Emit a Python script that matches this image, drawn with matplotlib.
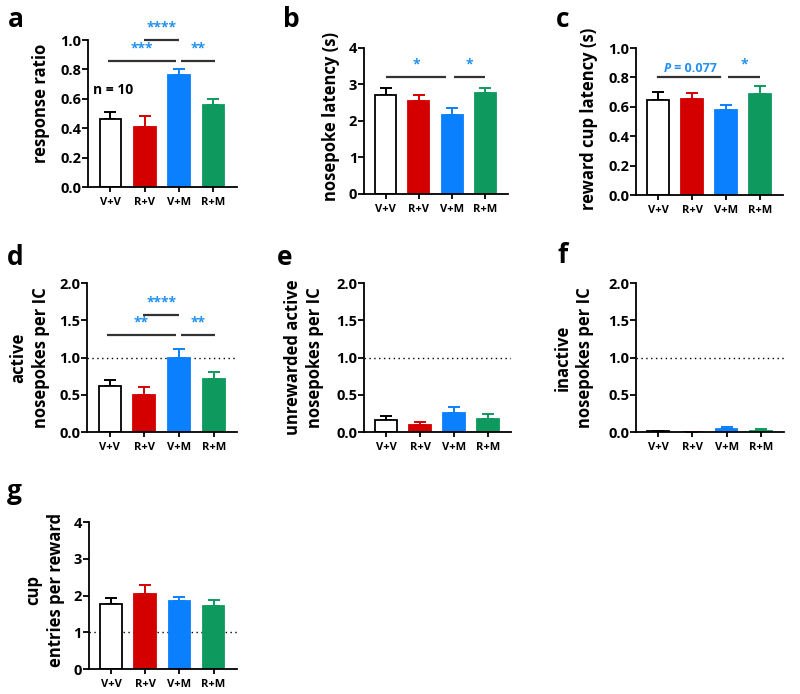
import matplotlib
matplotlib.use("Agg")
import matplotlib.pyplot as plt
import numpy as np

plt.rcParams['font.family'] = ['Open Sans', 'DejaVu Sans']
plt.rcParams['font.weight'] = 'bold'

groups = ["V+V", "R+V", "V+M", "R+M"]
fills = ["white", "#d40000", "#0a80ff", "#0e9a5e"]
edges = ["black", "#d40000", "#0a80ff", "#0e9a5e"]
star_blue = "#2391f0"

# a
ratio_mean = [0.46, 0.41, 0.76, 0.555]
ratio_sem = [0.05, 0.07, 0.045, 0.045]
# b
poke_lat_mean = [2.71, 2.56, 2.15, 2.76]
poke_lat_sem = [0.20, 0.16, 0.20, 0.13]
# c
cup_lat_mean = [0.645, 0.654, 0.58, 0.686]
cup_lat_sem = [0.055, 0.041, 0.031, 0.056]
# d
active_mean = [0.62, 0.50, 1.00, 0.71]
active_sem = [0.08, 0.10, 0.11, 0.09]
# e
unrew_mean = [0.16, 0.09, 0.25, 0.18]
unrew_sem = [0.05, 0.04, 0.08, 0.06]
# f
inactive_mean = [0.012, 0.004, 0.04, 0.018]
inactive_sem = [0.005, 0.002, 0.025, 0.02]
# g
cup_entry_mean = [1.76, 2.03, 1.84, 1.71]
cup_entry_sem = [0.18, 0.26, 0.13, 0.16]


def bar_panel(rect, mean, sem, ylim, yticks, fmt, ylabel, lab_xy, ref_line=False):
    ax = fig.add_axes(rect)
    x = np.arange(len(groups))
    for i in range(len(groups)):
        ax.errorbar(x[i], mean[i], yerr=[[0], [sem[i]]], fmt='none', ecolor=edges[i],
                    elinewidth=1.4, capsize=4, capthick=1.4, zorder=1)
    ax.bar(x, mean, width=0.63, color=fills, edgecolor=edges, linewidth=1.3, zorder=2)
    if ref_line:
        ax.axhline(1.0, color="black", linestyle=(0, (1, 2.5)), linewidth=1, zorder=0)
    ax.set_xlim(-0.65, 3.68)
    ax.set_ylim(*ylim)
    ax.set_yticks(yticks)
    ax.set_yticklabels([fmt % t for t in yticks], fontsize=10.5, fontweight='bold')
    ax.set_xticks(x)
    ax.set_xticklabels(groups, fontsize=8, fontweight='bold')
    ax.spines['top'].set_visible(False)
    ax.spines['right'].set_visible(False)
    for s in ['left', 'bottom']:
        ax.spines[s].set_linewidth(1.3)
    ax.tick_params(axis='y', length=4, width=1.3, pad=1)
    ax.tick_params(axis='x', length=3.5, width=1.3, pad=4)
    ax.set_ylabel(ylabel, fontsize=12, fontweight='bold', linespacing=1.3)
    ax.yaxis.label.set_verticalalignment('center')
    ax.yaxis.set_label_coords(*lab_xy)
    return ax


def sig(ax, x0, x1, y, text):
    ax.plot([x0, x1], [y, y], color="#333333", linewidth=1.6, solid_capstyle='butt',
            clip_on=False)
    ax.annotate(text, xy=((x0 + x1) / 2, y), xytext=(0, 4), textcoords='offset points',
                ha='center', va='bottom', color=star_blue, fontsize=10, fontweight='bold')


fig = plt.figure(figsize=(8, 6.94), dpi=100)

ax = bar_panel([0.110, 0.7305, 0.186, 0.2118], ratio_mean, ratio_sem, (0, 1.0),
               [0, 0.2, 0.4, 0.6, 0.8, 1.0], "%.1f", "response ratio", (-0.315, 0.57))
sig(ax, -0.07, 1.9, 0.855, "***")
sig(ax, 2.05, 3.05, 0.855, "**")
sig(ax, 0.97, 2.0, 1.0, "****")
ax.text(-0.51, 0.66, "n = 10", fontsize=10, fontweight='bold', va='center')

ax = bar_panel([0.455, 0.7205, 0.18, 0.2104], poke_lat_mean, poke_lat_sem, (0, 4),
               [0, 1, 2, 3, 4], "%d", "nosepoke latency (s)", (-0.23, 0.53))
sig(ax, 0.0, 1.83, 3.21, "*")
sig(ax, 2.05, 3.0, 3.21, "*")

ax = bar_panel([0.795, 0.719, 0.184, 0.2118], cup_lat_mean, cup_lat_sem, (0, 1.0),
               [0, 0.2, 0.4, 0.6, 0.8, 1.0], "%.1f", "reward cup latency (s)", (-0.32, 0.52))
ax.plot([0.0, 1.83], [0.80, 0.80], color="#333333", linewidth=1.6)
ax.annotate("P", xy=(0.88, 0.80), xytext=(-12, 2), textcoords='offset points', ha='right',
            va='bottom', color=star_blue, fontsize=9, fontweight='bold', style='italic')
ax.annotate(" = 0.077", xy=(0.88, 0.80), xytext=(-12, 2), textcoords='offset points', ha='left',
            va='bottom', color=star_blue, fontsize=9, fontweight='bold')
sig(ax, 2.05, 3.0, 0.80, "*")

ax = bar_panel([0.109, 0.3775, 0.1875, 0.2147], active_mean, active_sem, (0, 2.0),
               [0, 0.5, 1.0, 1.5, 2.0], "%.1f", "active\nnosepokes per IC", (-0.383, 0.5),
               ref_line=True)
sig(ax, -0.07, 1.9, 1.30, "**")
sig(ax, 2.05, 3.05, 1.30, "**")
sig(ax, 0.97, 2.0, 1.57, "****")

bar_panel([0.455, 0.3775, 0.184, 0.2147], unrew_mean, unrew_sem, (0, 2.0),
          [0, 0.5, 1.0, 1.5, 2.0], "%.1f", "unrewarded active\nnosepokes per IC", (-0.41, 0.5),
          ref_line=True)

bar_panel([0.795, 0.3775, 0.185, 0.2147], inactive_mean, inactive_sem, (0, 2.0),
          [0, 0.5, 1.0, 1.5, 2.0], "%.1f", "inactive\nnosepokes per IC", (-0.42, 0.5),
          ref_line=True)

bar_panel([0.111, 0.036, 0.185, 0.2118], cup_entry_mean, cup_entry_sem, (0, 4),
          [0, 1, 2, 3, 4], "%d", "cup\nentries per reward", (-0.297, 0.54), ref_line=True)

# panel letters
letters = ["a", "b", "c", "d", "e", "f", "g"]
letter_x = [8, 283, 556, 7, 277, 557, 7]
letter_y = [27, 27, 27, 265, 265, 263, 499]
for t, px, py in zip(letters, letter_x, letter_y):
    fig.text(px / 800, 1 - py / 694, t, fontsize=19, fontweight='bold', va='baseline', ha='left')

fig.savefig("out.png", dpi=100)
